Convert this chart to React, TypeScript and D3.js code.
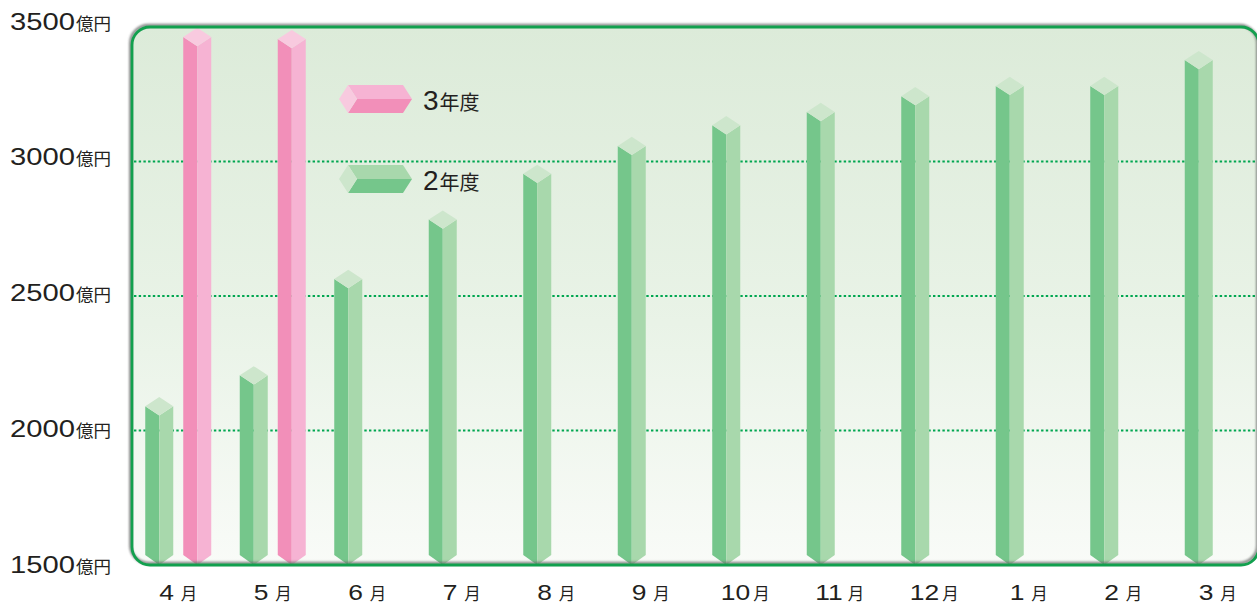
import React from "react";
import * as d3 from "d3";

const months = ["4月", "5月", "6月", "7月", "8月", "9月", "10月", "11月", "12月", "1月", "2月", "3月"];
const seriesNames = ["2年度", "3年度"];
const values2 = [2090, 2205, 2563, 2784, 2954, 3058, 3135, 3184, 3243, 3281, 3281, 3377];
const values3: (number | null)[] = [3463, 3455, null, null, null, null, null, null, null, null, null, null];
const yTicks = [1500, 2000, 2500, 3000, 3500];
const gridTicks = [2000, 2500, 3000];

const W = 1257;
const H = 608;
const plotLeft = 132;
const plotRight = 1259;
const plotTop = 27;
const plotBottom = 565;

const palettes: Record<string, { left: string; right: string; top: string }> = {
  "2年度": { left: "#75c68b", right: "#a8d8ac", top: "#cde6cc" },
  "3年度": { left: "#f28fb9", right: "#f6b3d3", top: "#f8cadf" },
};

const FONT = "'Liberation Sans', Arial, 'Noto Sans CJK JP', sans-serif";
const TEXT = "#231f20";

export default function App() {
  const x0 = d3.scaleBand<string>().domain(months).range([131, 131 + 94.5 * 12]);
  const x1 = d3.scaleBand<string>().domain(seriesNames).range([9.25, 85.25]);
  const y = d3.scaleLinear().domain([1500, 3500]).range([plotBottom, plotTop]);
  const yLabel = d3.scaleLinear().domain([1500, 3500]).range([573, 29.5]);

  const halfW = 14;
  const dh = 9.2;
  const vDepth = 10;

  const bars: { key: string; cx: number; yv: number; s: string }[] = [];
  months.forEach((m, i) => {
    const series: [string, number | null][] = [
      ["2年度", values2[i]],
      ["3年度", values3[i]],
    ];
    series.forEach(([s, v]) => {
      if (v == null) return;
      const cx = (x0(m) as number) + (x1(s) as number) + x1.bandwidth() / 2;
      bars.push({ key: m + s, cx, yv: y(v), s });
    });
  });

  const legendItems = [
    { s: "3年度", x: 339, y: 99 },
    { s: "2年度", x: 339, y: 179 },
  ];

  const xDigitW = 0.556 * 22 * 1.2;

  return (
    <svg
      width={W}
      height={H}
      style={{ position: "absolute", left: 0, top: 0, display: "block", background: "#ffffff" }}
      fontFamily={FONT}
    >
      <defs>
        <linearGradient id="bg" x1="0" y1="0" x2="0" y2="1">
          <stop offset="0%" stopColor="#dcebd9" />
          <stop offset="55%" stopColor="#e9f3e7" />
          <stop offset="100%" stopColor="#f9fbf8" />
        </linearGradient>
        <filter id="blur" x="-5%" y="-5%" width="110%" height="110%">
          <feGaussianBlur stdDeviation="0.9" />
        </filter>
      </defs>

      <rect
        x={plotLeft}
        y={plotTop}
        width={plotRight - plotLeft}
        height={plotBottom - plotTop}
        rx={18}
        fill="url(#bg)"
      />

      {gridTicks.map((t) => (
        <line
          key={t}
          x1={plotLeft + 2}
          x2={W}
          y1={y(t)}
          y2={y(t)}
          stroke="#00a650"
          strokeWidth={2}
          strokeDasharray="2.4 2.3"
        />
      ))}

      {bars.map((b) => {
        const p = palettes[b.s];
        const { cx, yv } = b;
        const base = plotBottom;
        const left = `M${cx - halfW},${yv} L${cx},${yv + dh} L${cx},${base} L${cx - halfW},${base - vDepth} Z`;
        const right = `M${cx},${yv + dh} L${cx + halfW},${yv} L${cx + halfW},${base - vDepth} L${cx},${base} Z`;
        const top = `M${cx - halfW},${yv} L${cx},${yv - dh} L${cx + halfW},${yv} L${cx},${yv + dh} Z`;
        return (
          <g key={b.key}>
            <path d={left} fill={p.left} />
            <path d={right} fill={p.right} />
            <path d={top} fill={p.top} />
          </g>
        );
      })}

      <rect
        x={plotLeft - 1.5}
        y={plotTop - 1.8}
        width={plotRight - plotLeft}
        height={plotBottom - plotTop}
        rx={18}
        fill="none"
        stroke="#6d6f6e"
        strokeWidth={3}
        filter="url(#blur)"
        opacity={0.8}
      />
      <rect
        x={plotLeft}
        y={plotTop}
        width={plotRight - plotLeft}
        height={plotBottom - plotTop}
        rx={18}
        fill="none"
        stroke="#12a04e"
        strokeWidth={2.8}
      />

      {legendItems.map((l) => {
        const p = palettes[l.s];
        const { x, y: ly } = l;
        const hh = 14;
        const capW = 9;
        const len = 55;
        const cap = `M${x},${ly} L${x + capW},${ly - hh} L${x + 2 * capW},${ly} L${x + capW},${ly + hh} Z`;
        const upper = `M${x + capW},${ly - hh} L${x + capW + len},${ly - hh} L${x + 2 * capW + len},${ly} L${x + 2 * capW},${ly} Z`;
        const lower = `M${x + 2 * capW},${ly} L${x + 2 * capW + len},${ly} L${x + capW + len},${ly + hh} L${x + capW},${ly + hh} Z`;
        return (
          <g key={l.s}>
            <path d={upper} fill={p.right} />
            <path d={lower} fill={p.left} />
            <path d={cap} fill={p.top} />
            <text x={x + 84} y={ly + 11} fill={TEXT}>
              <tspan fontSize={28}>{l.s.slice(0, 1)}</tspan>
              <tspan fontSize={20} dx={1}>{l.s.slice(1)}</tspan>
            </text>
          </g>
        );
      })}

      {yTicks.map((t) => (
        <g key={t} transform={`translate(10, ${yLabel(t)})`} fill={TEXT}>
          <text transform="scale(1.27,1)" fontSize={23}>{t}</text>
          <text x={66} fontSize={17.5}>億円</text>
        </g>
      ))}

      {months.map((m) => {
        const num = m.slice(0, -1);
        const mid = (x0(m) as number) + x0.bandwidth() / 2;
        const dw = num.length * xDigitW;
        const gap = num.length === 1 ? 7 : 3;
        const total = dw + gap + 16.5;
        const start = mid - total / 2;
        return (
          <g key={m} fill={TEXT}>
            <text transform={`translate(${start}, 599.5) scale(1.2,1)`} fontSize={22}>{num}</text>
            <text x={start + dw + gap} y={600} fontSize={16.5}>月</text>
          </g>
        );
      })}
    </svg>
  );
}
